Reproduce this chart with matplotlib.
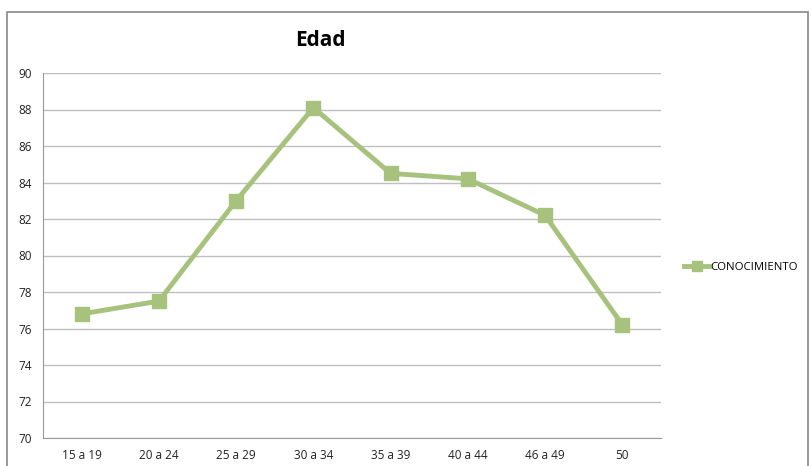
import matplotlib
matplotlib.use('Agg')
import matplotlib.pyplot as plt
from matplotlib.patches import Rectangle

plt.rcParams['font.family'] = ['Liberation Sans Narrow', 'Open Sans', 'DejaVu Sans']

categorias = ['15 a 19', '20 a 24', '25 a 29', '30 a 34', '35 a 39', '40 a 44', '46 a 49', '50']
conocimiento = [76.8, 77.5, 83.0, 88.1, 84.5, 84.2, 82.2, 76.2]
yticks = list(range(70, 91, 2))

verde = '#A6C27C'
gris = '#BFBFBF'

fig = plt.figure(figsize=(8.12, 4.66), dpi=100)
# marco exterior del grafico
fig.patches.append(Rectangle((7 / 812, -0.01), 801 / 812, 1 - 12 / 466 + 0.01,
                             transform=fig.transFigure, fill=False,
                             edgecolor='#888888', linewidth=1.2))

ax = fig.add_axes([43 / 812, 28 / 466, 618 / 812, 365 / 466])
x = range(len(categorias))
ax.plot(x, conocimiento, color=verde, linewidth=3.5, marker='s', markersize=10,
        markerfacecolor=verde, markeredgecolor=verde, label='CONOCIMIENTO')

ax.set_xlim(-0.5, len(categorias) - 0.5)
ax.set_ylim(70, 90)
ax.set_yticks(yticks)
ax.set_xticks(list(x))
ax.set_xticklabels(categorias)
ax.tick_params(axis='both', length=0, labelsize=8.5, colors='#222222', pad=8)
ax.grid(axis='y', color=gris, linewidth=1)
ax.set_axisbelow(True)
for s in ['top', 'right']:
    ax.spines[s].set_visible(False)
ax.spines['left'].set_color('#999999')
ax.spines['bottom'].set_color('#999999')

fig.text(320 / 812, 1 - 40 / 466, 'Edad', ha='center', va='center',
         fontsize=15, fontweight='bold')

fig.legend(loc='center left', bbox_to_anchor=(674 / 812, 1 - 267 / 466),
           frameon=False, fontsize=8.2, handlelength=2.2, handletextpad=0.1,
           markerscale=0.7)

fig.savefig('out.png', dpi=100)
